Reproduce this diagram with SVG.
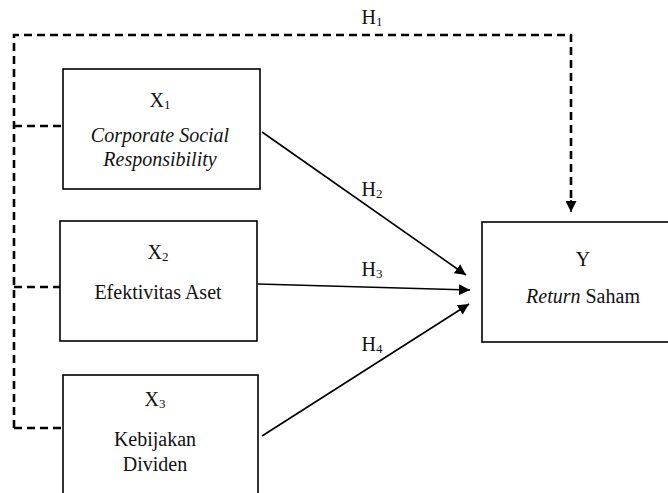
<svg xmlns="http://www.w3.org/2000/svg" width="668" height="493" viewBox="0 0 668 493">
<style>
.box{fill:#fff;stroke:#000;stroke-width:1.6}
text{font-family:'Liberation Serif','Times New Roman',serif;font-size:20px;fill:#111;text-anchor:middle}
.i{font-style:italic}
.sub{font-size:13px}
.dash{fill:none;stroke:#000;stroke-width:2.6;stroke-dasharray:8 5}
.line{fill:none;stroke:#000;stroke-width:1.6}
</style>
<defs>
<marker id="ah2" viewBox="0 0 10 10" refX="10" refY="5" markerWidth="11" markerHeight="11" markerUnits="userSpaceOnUse" orient="auto">
<path d="M0,0 L10,5 L0,10 z" fill="#000"/>
</marker>
</defs>
<rect width="668" height="493" fill="#fff"/>
<g id="connectors">
<path class="dash" d="M14,428 V35 H571 V205"/>
<path class="dash" d="M14,126 H63"/>
<path class="dash" d="M14,287 H60"/>
<path class="dash" d="M14,428 H63"/>
<path class="line" d="M571,200 V212" marker-end="url(#ah2)"/>
<path class="line" d="M262,132 L466,275" marker-end="url(#ah2)"/>
<path class="line" d="M258,284 L470,290" marker-end="url(#ah2)"/>
<path class="line" d="M262,436 L469,304" marker-end="url(#ah2)"/>
<text x="372" y="24">H<tspan class="sub" dy="2">1</tspan></text>
<text x="372" y="196">H<tspan class="sub" dy="2">2</tspan></text>
<text x="372" y="276">H<tspan class="sub" dy="2">3</tspan></text>
<text x="372" y="351">H<tspan class="sub" dy="2">4</tspan></text>
</g>
<g id="x1">
<rect class="box" x="63" y="69" width="197" height="120"/>
<text x="160" y="107">X<tspan class="sub" dy="2">1</tspan></text>
<text class="i" x="160" y="142">Corporate Social</text>
<text class="i" x="160" y="166">Responsibility</text>
</g>
<g id="x2">
<rect class="box" x="60" y="221" width="197" height="120"/>
<text x="158" y="259">X<tspan class="sub" dy="2">2</tspan></text>
<text x="158" y="299">Efektivitas Aset</text>
</g>
<g id="x3">
<rect class="box" x="63" y="375" width="195" height="130"/>
<text x="155" y="406">X<tspan class="sub" dy="2">3</tspan></text>
<text x="155" y="446">Kebijakan</text>
<text x="155" y="471">Dividen</text>
</g>
<g id="y">
<rect class="box" x="482" y="222" width="200" height="120"/>
<text x="583" y="266">Y</text>
<text x="583" y="303"><tspan class="i">Return</tspan> Saham</text>
</g>
</svg>
